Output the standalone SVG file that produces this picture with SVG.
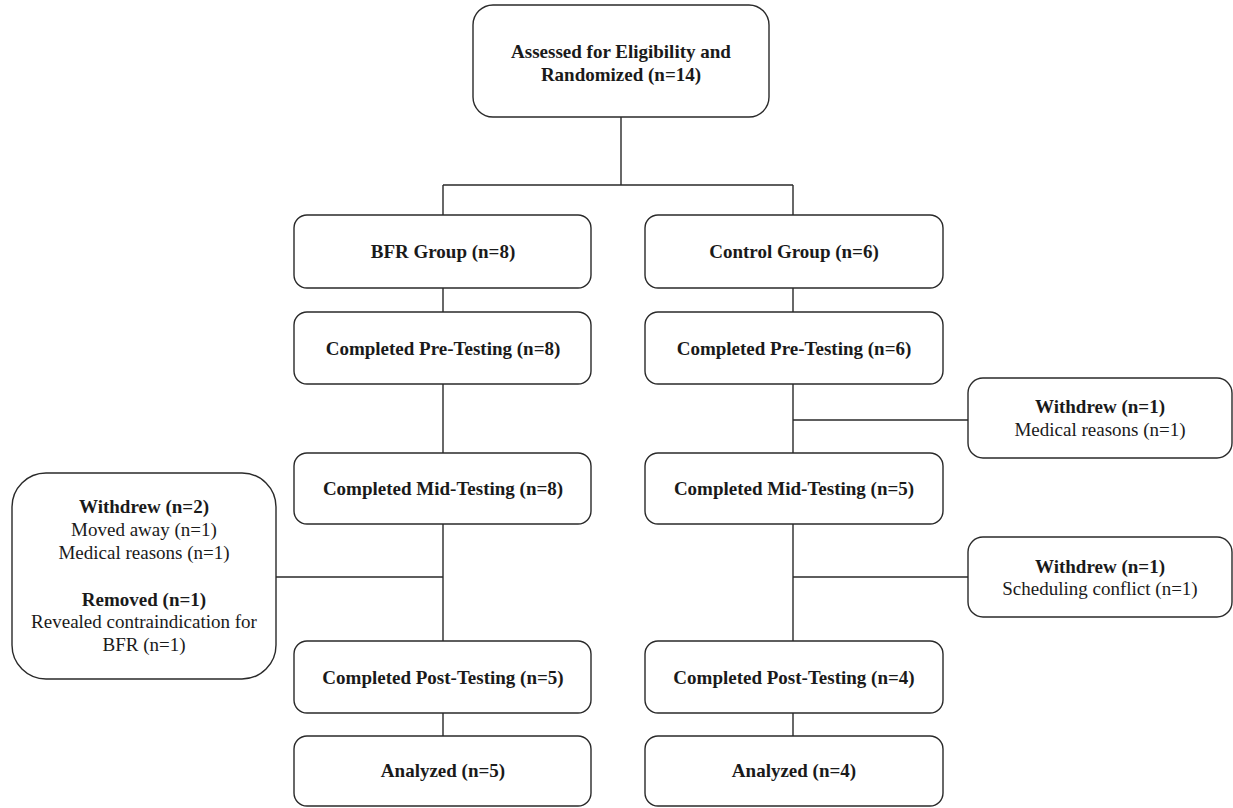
<svg xmlns="http://www.w3.org/2000/svg" width="1233" height="808" viewBox="0 0 1233 808">
<style>
.box{fill:#fff;stroke:#2a2a2a;stroke-width:1.4}
.ln{fill:none;stroke:#2a2a2a;stroke-width:1.4}
text{font-family:"Liberation Serif","Times New Roman",serif;font-size:19px;fill:#1a1a1a;text-anchor:middle}
.b{font-weight:bold}
</style>
<rect width="1233" height="808" fill="#fff"/>
<g id="connectors">
<path class="ln" d="M621 117V185M443 185H793M443 185V215M793 185V215"/>
<path class="ln" d="M443 288V312M443 384V453M443 524V641M443 713V736"/>
<path class="ln" d="M793 288V312M793 384V453M793 524V641M793 713V736"/>
<path class="ln" d="M793 420H968M793 577H968M276 577H443"/>
</g>
<g id="n-assessed"><rect class="box" x="473" y="5" width="296" height="112" rx="20"/>
<text class="b" x="621" y="58">Assessed for Eligibility and</text>
<text class="b" x="621" y="81">Randomized (n=14)</text></g>
<g id="n-bfr"><rect class="box" x="294" y="215" width="297" height="73" rx="13"/>
<text class="b" x="443" y="258">BFR Group (n=8)</text></g>
<g id="n-control"><rect class="box" x="645" y="215" width="298" height="73" rx="13"/>
<text class="b" x="794" y="258">Control Group (n=6)</text></g>
<g id="n-bfr-pre"><rect class="box" x="294" y="312" width="297" height="72" rx="13"/>
<text class="b" x="443" y="355">Completed Pre-Testing (n=8)</text></g>
<g id="n-ctl-pre"><rect class="box" x="645" y="312" width="298" height="72" rx="13"/>
<text class="b" x="794" y="355">Completed Pre-Testing (n=6)</text></g>
<g id="n-bfr-mid"><rect class="box" x="294" y="453" width="297" height="71" rx="13"/>
<text class="b" x="443" y="495">Completed Mid-Testing (n=8)</text></g>
<g id="n-ctl-mid"><rect class="box" x="645" y="453" width="298" height="71" rx="13"/>
<text class="b" x="794" y="495">Completed Mid-Testing (n=5)</text></g>
<g id="n-bfr-post"><rect class="box" x="294" y="641" width="297" height="72" rx="13"/>
<text class="b" x="443" y="684">Completed Post-Testing (n=5)</text></g>
<g id="n-ctl-post"><rect class="box" x="645" y="641" width="298" height="72" rx="13"/>
<text class="b" x="794" y="684">Completed Post-Testing (n=4)</text></g>
<g id="n-bfr-an"><rect class="box" x="294" y="736" width="297" height="70" rx="13"/>
<text class="b" x="443" y="777">Analyzed (n=5)</text></g>
<g id="n-ctl-an"><rect class="box" x="645" y="736" width="298" height="70" rx="13"/>
<text class="b" x="794" y="777">Analyzed (n=4)</text></g>
<g id="n-wd-left"><rect class="box" x="12" y="473" width="264" height="206" rx="34"/>
<text class="b" x="144" y="513">Withdrew (n=2)</text>
<text x="144" y="536">Moved away (n=1)</text>
<text x="144" y="559">Medical reasons (n=1)</text>
<text class="b" x="144" y="606">Removed (n=1)</text>
<text x="144" y="628">Revealed contraindication for</text>
<text x="144" y="651">BFR (n=1)</text></g>
<g id="n-wd-r1"><rect class="box" x="968" y="378" width="264" height="80" rx="15"/>
<text class="b" x="1100" y="413">Withdrew (n=1)</text>
<text x="1100" y="436">Medical reasons (n=1)</text></g>
<g id="n-wd-r2"><rect class="box" x="968" y="537" width="264" height="80" rx="15"/>
<text class="b" x="1100" y="573">Withdrew (n=1)</text>
<text x="1100" y="595">Scheduling conflict (n=1)</text></g>
</svg>
